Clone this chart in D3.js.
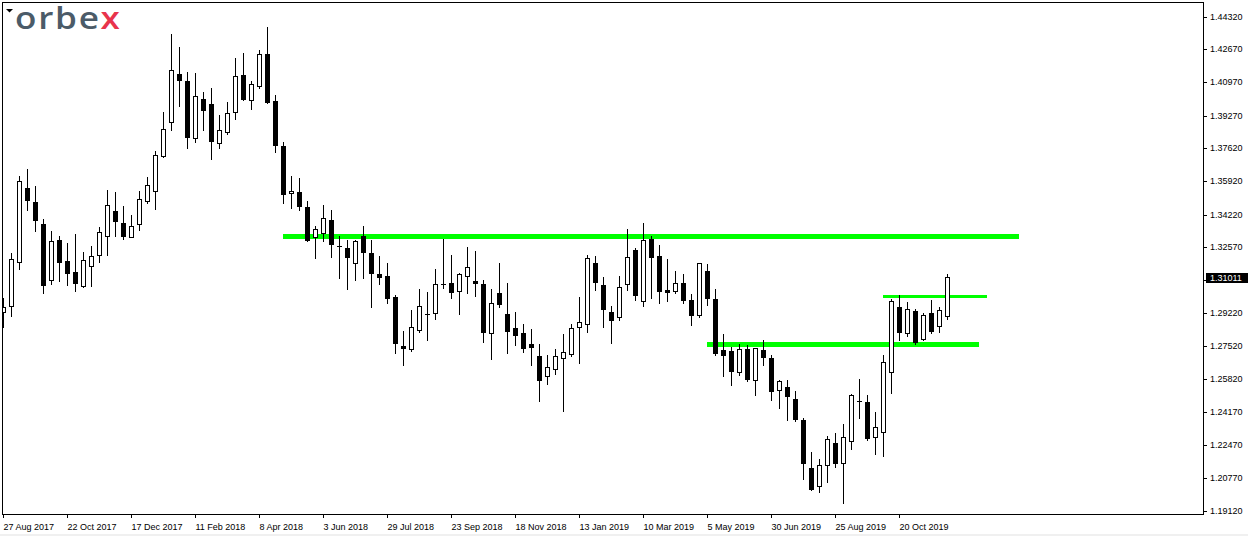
<!DOCTYPE html>
<html>
<head>
<meta charset="utf-8">
<script src="https://cdn.jsdelivr.net/npm/d3@7"></script>
<style>
  html, body { margin: 0; padding: 0; background: #fff; }
  svg { display: block; }
  .axis text { font-family: "Liberation Sans", Arial, sans-serif; font-size: 9px; fill: #000; }
</style>
</head>
<body>
<div id="chart"></div>
<script>
// weekly candles, first week opens 27 Aug 2017
var opens = [
  1.2923, 1.2957, 1.3182, 1.3557, 1.3486, 1.3374, 1.3087, 1.3292, 1.3185, 1.3129,
  1.3059, 1.3161, 1.3214, 1.3311, 1.3440, 1.3379, 1.3306, 1.3372, 1.3493, 1.3544,
  1.3722, 1.3892, 1.4139, 1.4103, 1.3811, 1.4011, 1.3986, 1.3788, 1.3845, 1.3943,
  1.4134, 1.4008, 1.4079, 1.4241, 1.4001, 1.3772, 1.3530, 1.3537, 1.3461, 1.3309,
  1.3329, 1.3394, 1.3260, 1.3251, 1.3173, 1.3313, 1.3226, 1.3119, 1.3109, 1.3002,
  1.2752, 1.2738, 1.2835, 1.2915, 1.2918, 1.3066, 1.3073, 1.3034, 1.3110, 1.3082,
  1.3068, 1.2819, 1.3022, 1.2915, 1.2843, 1.2818, 1.2760, 1.2701, 1.2597, 1.2636,
  1.2689, 1.2712, 1.2850, 1.2862, 1.3175, 1.3063, 1.2923, 1.2898, 1.3066, 1.3240,
  1.2980, 1.3297, 1.3209, 1.3037, 1.3031, 1.3073, 1.2986, 1.2911, 1.3134, 1.2991,
  1.2731, 1.2726, 1.2621, 1.2736, 1.2577, 1.2731, 1.2690, 1.2526, 1.2542, 1.2481,
  1.2374, 1.2129, 1.2036, 1.2143, 1.2257, 1.2153, 1.2266, 1.2471, 1.2464, 1.2286,
  1.2311, 1.2617, 1.2950, 1.2816, 1.2930, 1.2789, 1.2920, 1.2855, 1.2906
];
var highs = [
  1.2998, 1.3224, 1.3619, 1.3654, 1.3568, 1.3398, 1.3338, 1.3313, 1.3277, 1.3323,
  1.3231, 1.3262, 1.3360, 1.3547, 1.3537, 1.3466, 1.3420, 1.3542, 1.3614, 1.3746,
  1.3947, 1.4343, 1.4277, 1.4149, 1.4145, 1.4047, 1.4067, 1.3930, 1.3996, 1.4220,
  1.4246, 1.4103, 1.4261, 1.4379, 1.4032, 1.3790, 1.3619, 1.3607, 1.3491, 1.3364,
  1.3471, 1.3444, 1.3311, 1.3292, 1.3292, 1.3364, 1.3292, 1.3211, 1.3175, 1.3010,
  1.2828, 1.2935, 1.3042, 1.3027, 1.3144, 1.3297, 1.3216, 1.3122, 1.3257, 1.3236,
  1.3087, 1.3042, 1.3175, 1.3073, 1.2925, 1.2864, 1.2838, 1.2762, 1.2706, 1.2736,
  1.2813, 1.2864, 1.3002, 1.3216, 1.3211, 1.3103, 1.2956, 1.3109, 1.3348, 1.3250,
  1.3379, 1.3313, 1.3267, 1.3195, 1.3134, 1.3119, 1.3017, 1.3173, 1.3170, 1.3042,
  1.2813, 1.2745, 1.2762, 1.2757, 1.2741, 1.2782, 1.2706, 1.2578, 1.2578, 1.2522,
  1.2384, 1.2211, 1.2175, 1.2293, 1.2309, 1.2354, 1.2507, 1.2583, 1.2502, 1.2415,
  1.2706, 1.2991, 1.3012, 1.2976, 1.2940, 1.2920, 1.2986, 1.2950, 1.3119
];
var lows = [
  1.2850, 1.2906, 1.3144, 1.3445, 1.3340, 1.3023, 1.3069, 1.3085, 1.3064, 1.3034,
  1.3054, 1.3059, 1.3182, 1.3217, 1.3313, 1.3297, 1.3306, 1.3345, 1.3482, 1.3452,
  1.3717, 1.3855, 1.3977, 1.3763, 1.3794, 1.3855, 1.3707, 1.3763, 1.3834, 1.3911,
  1.4006, 1.3960, 1.4069, 1.3992, 1.3743, 1.3482, 1.3457, 1.3445, 1.3287, 1.3202,
  1.3289, 1.3207, 1.3100, 1.3044, 1.3090, 1.3100, 1.2952, 1.3069, 1.2972, 1.2717,
  1.2653, 1.2728, 1.2825, 1.2784, 1.2891, 1.3049, 1.2998, 1.2916, 1.3023, 1.3008,
  1.2774, 1.2687, 1.2952, 1.2717, 1.2758, 1.2723, 1.2656, 1.2473, 1.2559, 1.2610,
  1.2422, 1.2702, 1.2666, 1.2825, 1.3039, 1.2850, 1.2768, 1.2886, 1.3039, 1.2988,
  1.2957, 1.2998, 1.2972, 1.2983, 1.3020, 1.2972, 1.2860, 1.2901, 1.2962, 1.2707,
  1.2600, 1.2554, 1.2605, 1.2573, 1.2503, 1.2656, 1.2478, 1.2437, 1.2376, 1.2371,
  1.2075, 1.2017, 1.2009, 1.2060, 1.2136, 1.1952, 1.2226, 1.2386, 1.2274, 1.2202,
  1.2192, 1.2513, 1.2784, 1.2804, 1.2763, 1.2784, 1.2819, 1.2825, 1.2891
];
var closes = [
  1.2952, 1.3195, 1.3593, 1.3498, 1.3396, 1.3064, 1.3287, 1.3182, 1.3125, 1.3074,
  1.3190, 1.3209, 1.3333, 1.3471, 1.3391, 1.3314, 1.3362, 1.3501, 1.3573, 1.3724,
  1.3858, 1.4158, 1.4108, 1.3818, 1.4027, 1.3957, 1.3799, 1.3853, 1.3938, 1.4127,
  1.4011, 1.4086, 1.4239, 1.3998, 1.3778, 1.3528, 1.3542, 1.3467, 1.3292, 1.3347,
  1.3403, 1.3273, 1.3260, 1.3207, 1.3286, 1.3233, 1.3125, 1.3105, 1.2998, 1.2768,
  1.2743, 1.2847, 1.2956, 1.2915, 1.3066, 1.3066, 1.3029, 1.3119, 1.3155, 1.3074,
  1.2825, 1.2969, 1.2967, 1.2830, 1.2809, 1.2743, 1.2748, 1.2580, 1.2645, 1.2701,
  1.2719, 1.2843, 1.2874, 1.3199, 1.3076, 1.2942, 1.2886, 1.3051, 1.3204, 1.3013,
  1.3291, 1.3207, 1.3034, 1.3029, 1.3071, 1.2988, 1.2911, 1.3173, 1.2998, 1.2717,
  1.2707, 1.2626, 1.2736, 1.2583, 1.2741, 1.2697, 1.2524, 1.2572, 1.2498, 1.2381,
  1.2156, 1.2022, 1.2143, 1.2276, 1.2156, 1.2286, 1.2502, 1.2471, 1.2284, 1.2337,
  1.2668, 1.2981, 1.2825, 1.2940, 1.2772, 1.2910, 1.2830, 1.2935, 1.3101
];

// date labels, one every 8 weeks
var xTickLabels = [
  "27 Aug 2017", "22 Oct 2017", "17 Dec 2017", "11 Feb 2018", "8 Apr 2018",
  "3 Jun 2018", "29 Jul 2018", "23 Sep 2018", "18 Nov 2018", "13 Jan 2019",
  "10 Mar 2019", "5 May 2019", "30 Jun 2019", "25 Aug 2019", "20 Oct 2019"
];
var yTickValues = [
  1.44320, 1.42670, 1.40970, 1.39270, 1.37620, 1.35920, 1.34220, 1.32570,
  1.30870, 1.29220, 1.27520, 1.25820, 1.24170, 1.22470, 1.20770, 1.19120
];
var lastPrice = 1.31011;

// horizontal support / resistance levels (price, from week, to week)
var levelPrices = [1.3312, 1.2762, 1.3007];
var levelFrom = [35, 88, 110];
var levelTo = [127, 122, 123];

var W = 1248, H = 536;
var frameLeft = 2, frameTop = 2, axisX = 1203, frameBottom = 514;

var svg = d3.select("#chart").append("svg")
    .attr("width", W)
    .attr("height", H);

svg.append("rect").attr("width", W).attr("height", H).attr("fill", "#fff");
svg.append("rect").attr("x", 0).attr("y", 534).attr("width", W).attr("height", 2).attr("fill", "#f0f0f0");

var n = opens.length;
var x = d3.scaleLinear().domain([0, n - 1]).range([3, 3 + 8 * (n - 1)]);
var y = d3.scaleLinear().domain([1.1912, 1.4432]).range([510.6, 16.5]);
var py = function (v) { return Math.round(y(v)); };

svg.append("clipPath").attr("id", "plot")
  .append("rect")
    .attr("x", frameLeft + 1).attr("y", frameTop + 1)
    .attr("width", axisX - frameLeft - 1).attr("height", frameBottom - frameTop - 1);

var plot = svg.append("g").attr("clip-path", "url(#plot)").attr("shape-rendering", "crispEdges");

// green levels go behind the candles
plot.selectAll("line.level")
    .data(levelPrices)
    .enter().append("line")
    .attr("class", "level")
    .attr("x1", function (d, i) { return x(levelFrom[i]); })
    .attr("x2", function (d, i) { return x(levelTo[i]); })
    .attr("y1", function (d) { return py(d) + 0.5; })
    .attr("y2", function (d) { return py(d) + 0.5; })
    .attr("stroke", "#00ff00")
    .attr("stroke-width", function (d, i) { return i === 2 ? 3 : 5; });

var candles = plot.selectAll("g.candle")
    .data(d3.range(n))
    .enter().append("g")
    .attr("class", "candle");

candles.append("line")
    .attr("x1", function (i) { return x(i) + 0.5; })
    .attr("x2", function (i) { return x(i) + 0.5; })
    .attr("y1", function (i) { return py(highs[i]); })
    .attr("y2", function (i) { return py(lows[i]) + 1; })
    .attr("stroke", "#000")
    .attr("stroke-width", 1);

candles.each(function (i) {
  var g = d3.select(this);
  var top = py(Math.max(opens[i], closes[i]));
  var bot = py(Math.min(opens[i], closes[i]));
  if (bot - top < 1) {
    g.append("rect")
      .attr("x", x(i) - 2).attr("y", top)
      .attr("width", 5).attr("height", 1)
      .attr("fill", "#000");
  } else if (closes[i] < opens[i]) {
    g.append("rect")
      .attr("x", x(i) - 2).attr("y", top)
      .attr("width", 5).attr("height", bot - top + 1)
      .attr("fill", "#000");
  } else {
    g.append("rect")
      .attr("x", x(i) - 1.5).attr("y", top + 0.5)
      .attr("width", 4).attr("height", bot - top)
      .attr("fill", "#fff")
      .attr("stroke", "#000")
      .attr("stroke-width", 1);
  }
});

// frame
svg.append("rect")
    .attr("x", frameLeft + 0.5).attr("y", frameTop + 0.5)
    .attr("width", axisX - frameLeft).attr("height", frameBottom - frameTop)
    .attr("fill", "none")
    .attr("stroke", "#000")
    .attr("shape-rendering", "crispEdges");

// price axis on the right
var yAxis = d3.axisRight(d3.scaleLinear().domain(y.domain()).range([510.6, 16.5]).interpolate(function (a, b) {
      return function (t) { return Math.round(a + (b - a) * t); };
    }))
    .tickValues(yTickValues)
    .tickFormat(d3.format(".5f"))
    .tickSize(4)
    .tickPadding(3);

svg.append("g")
    .attr("class", "axis")
    .attr("transform", "translate(" + axisX + ",0)")
    .attr("shape-rendering", "crispEdges")
    .call(yAxis)
    .call(function (g) { g.select(".domain").remove(); });

// date axis at the bottom
var xAxis = d3.axisBottom(x)
    .tickValues(xTickLabels.map(function (d, k) { return k * 8; }))
    .tickFormat(function (d, k) { return xTickLabels[k]; })
    .tickSize(4)
    .tickPadding(3);

svg.append("g")
    .attr("class", "axis")
    .attr("transform", "translate(0," + frameBottom + ")")
    .attr("shape-rendering", "crispEdges")
    .call(xAxis)
    .call(function (g) {
      g.select(".domain").remove();
      g.selectAll(".tick text").attr("text-anchor", "start").attr("x", 0).attr("dy", "0.95em");
    });

// current price tag
var tagY = py(lastPrice);
svg.append("rect")
    .attr("x", axisX + 3).attr("y", tagY - 4)
    .attr("width", W - axisX - 3).attr("height", 10)
    .attr("fill", "#000");
svg.append("text")
    .attr("x", axisX + 7).attr("y", tagY + 1)
    .attr("dy", "0.32em")
    .attr("font-family", "Liberation Sans, Arial, sans-serif")
    .attr("font-size", 9)
    .attr("fill", "#fff")
    .text(d3.format(".5f")(lastPrice));

// logo and the little menu arrow
svg.append("path").attr("d", "M6,9 L13,9 L9.5,12.5 Z").attr("fill", "#000");
var logo = svg.append("text")
    .attr("transform", "translate(15,29) scale(1.17,1)")
    .attr("font-family", "Open Sans, sans-serif")
    .attr("font-weight", 600)
    .attr("font-size", 30)
    .attr("letter-spacing", 1.5)
    .attr("fill", "#4b5b68");
logo.append("tspan").text("orbe");
logo.append("tspan").attr("fill", "#e8344c").text("x");
</script>
</body>
</html>
